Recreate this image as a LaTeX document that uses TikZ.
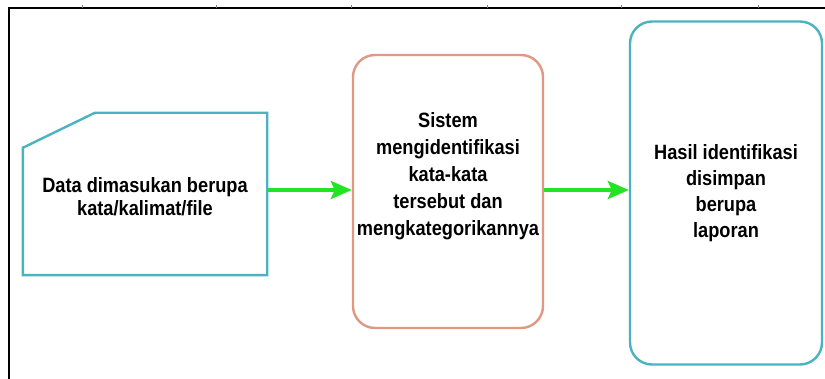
\documentclass[tikz,border=0pt]{standalone}
\usepackage{fontspec}
\setmainfont{Liberation Sans}
\newfontfamily\narrowsans[FakeStretch=0.88]{Liberation Sans}
\usetikzlibrary{arrows.meta,calc}
\definecolor{tealline}{RGB}{75,178,192}
\definecolor{salmonline}{RGB}{222,152,132}
\definecolor{flowgreen}{RGB}{34,228,34}

\begin{document}
\begin{tikzpicture}[x=1pt,y=-1pt,>={Stealth[length=21pt,width=18pt,inset=4pt]},
  box/.style={draw,line width=2.4pt,rounded corners=22pt,inner sep=0pt,align=center},
  txt/.style={align=center,font=\narrowsans\bfseries\fontsize{20.7}{26}\selectfont},
  flow/.style={->,line width=3.6pt,flowgreen}]
\useasboundingbox (0,0) rectangle (825,379);
\draw[line width=1.6pt] (9,379) -- (9,8) -- (825,8);
\foreach \tx in {82,216,351,487,621,758}
  \draw[line width=0.5pt,gray] (\tx,5) -- (\tx,8);

\node[minimum width=244pt,minimum height=162pt,inner sep=0pt] (datain) at (145,194) {};
\draw[tealline,line width=2.4pt] ($(datain.north west)+(0,35)$) -- ($(datain.north west)+(72,0)$)
  -- (datain.north east) -- (datain.south east) -- (datain.south west) -- cycle;
\node[txt,font=\narrowsans\bfseries\fontsize{20.7}{23}\selectfont] (datatxt) at (145,197) {Data dimasukan berupa\\kata/kalimat/file};

\node[box,draw=salmonline,minimum width=190pt,minimum height=273pt] (sistem) at (448,191.5) {};
\node[txt,font=\narrowsans\bfseries\fontsize{20.7}{27}\selectfont] (sistemtxt) at (448,176) {Sistem\\mengidentifikasi\\kata-kata\\tersebut dan\\mengkategorikannya};

\node[box,txt,draw=tealline,minimum width=192pt,minimum height=343pt] (hasil) at (726,193) {Hasil identifikasi\\disimpan\\berupa\\laporan};

\coordinate (mid) at (0,190);
\draw[flow] (datain.east |- mid) -- (sistem.west |- mid);
\draw[flow] (sistem.east |- mid) -- (hasil.west |- mid);
\end{tikzpicture}
\end{document}
